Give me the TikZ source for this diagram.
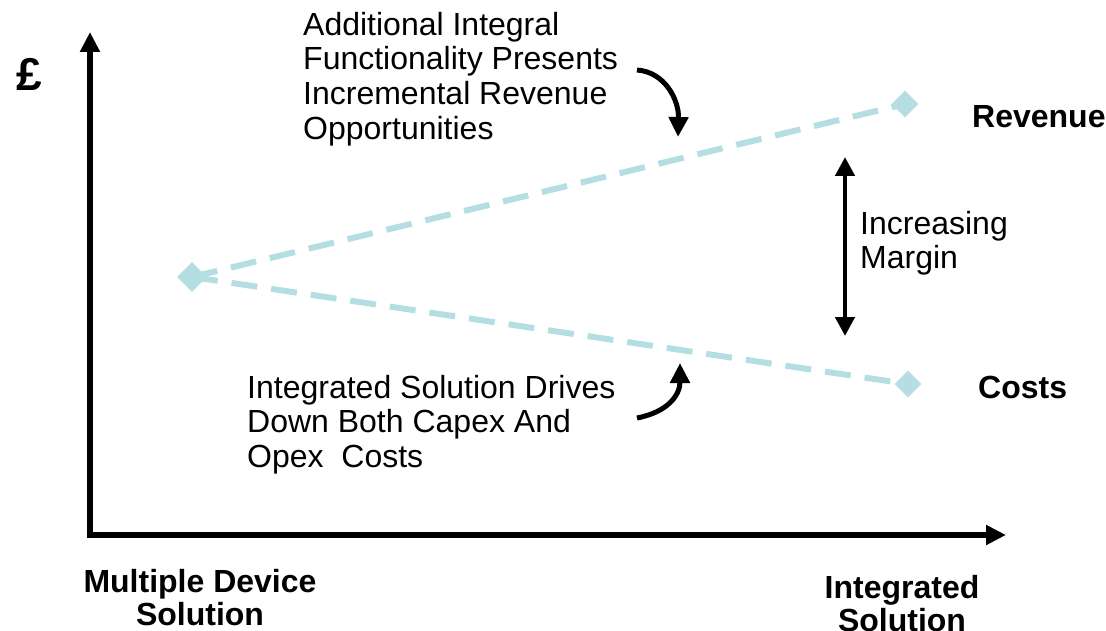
\documentclass[tikz,border=0pt]{standalone}
\usepackage{fontspec}
\setmainfont{Liberation Sans}
\usetikzlibrary{arrows.meta,shapes.geometric}
\definecolor{lineblue}{RGB}{180,222,226}
\tikzset{
  mark box/.style={diamond,fill=lineblue,inner sep=0pt,minimum size=27pt},
  trend/.style={lineblue,line width=6pt,dash pattern=on 26pt off 14pt},
  bigtip/.style={-{Triangle[length=20pt,width=19pt]}},
  txt/.style={inner sep=0pt,align=left,font=\fontsize{32}{34.6}\selectfont},
  btxt/.style={inner sep=0pt,font=\fontsize{32}{33}\selectfont\bfseries}
}
\begin{document}
\begin{tikzpicture}[x=1pt,y=-1pt]
  \useasboundingbox (0,0) rectangle (1106,631);
  % axes
  \coordinate (o) at (90,535);
  \coordinate (ytop) at (90,32);
  \coordinate (xend) at (1006,535);
  \draw[bigtip,line width=5.5pt] (o) -- (ytop);
  \draw[bigtip,line width=5.5pt] ([xshift=-2.75pt]o) -- (xend);
  \node[btxt,font=\fontsize{46}{48}\selectfont\bfseries] (pound) at (29,74) {£};
  % trend lines
  \node[mark box,minimum size=30pt] (start) at (192,277) {};
  \node[mark box] (revpt) at (905,104) {};
  \node[mark box] (costpt) at (908,384) {};
  \draw[trend] (start.center) -- (revpt.center);
  \draw[trend] (start.center) -- (costpt.center);
  \node[btxt,anchor=west] (rev) at (972,117) {Revenue};
  \node[btxt,anchor=west] (cost) at (978,387) {Costs};
  % margin
  \coordinate (mtop) at (845,157);
  \coordinate (mbot) at (845,336);
  \draw[{Triangle[length=19pt,width=19pt]}-{Triangle[length=19pt,width=19pt]},line width=4.5pt] (mtop) -- (mbot);
  \node[txt,anchor=north west] (margin) at (860,211) {Increasing\\Margin};
  % notes
  \node[txt,anchor=north west] (upnote) at (303,12) {Additional Integral\\Functionality Presents\\Incremental Revenue\\Opportunities};
  \coordinate (upfrom) at (637,70);
  \coordinate (upto) at (678,137);
  \draw[bigtip,line width=5pt] (upfrom) .. controls (665,72) and (679,100) .. (upto);
  \node[txt,anchor=north west] (downnote) at (247,375) {Integrated Solution Drives\\Down Both Capex And\\Opex\ \ Costs};
  \coordinate (downfrom) at (637,418);
  \coordinate (downto) at (680,363);
  \draw[bigtip,line width=5pt] (downfrom) .. controls (668,412) and (680,395) .. (downto);
  % x labels
  \node[btxt,align=center,anchor=north] (multi) at (200,569) {Multiple Device\\Solution};
  \node[btxt,align=center,anchor=north] (integ) at (902,575) {Integrated\\Solution};
\end{tikzpicture}
\end{document}
